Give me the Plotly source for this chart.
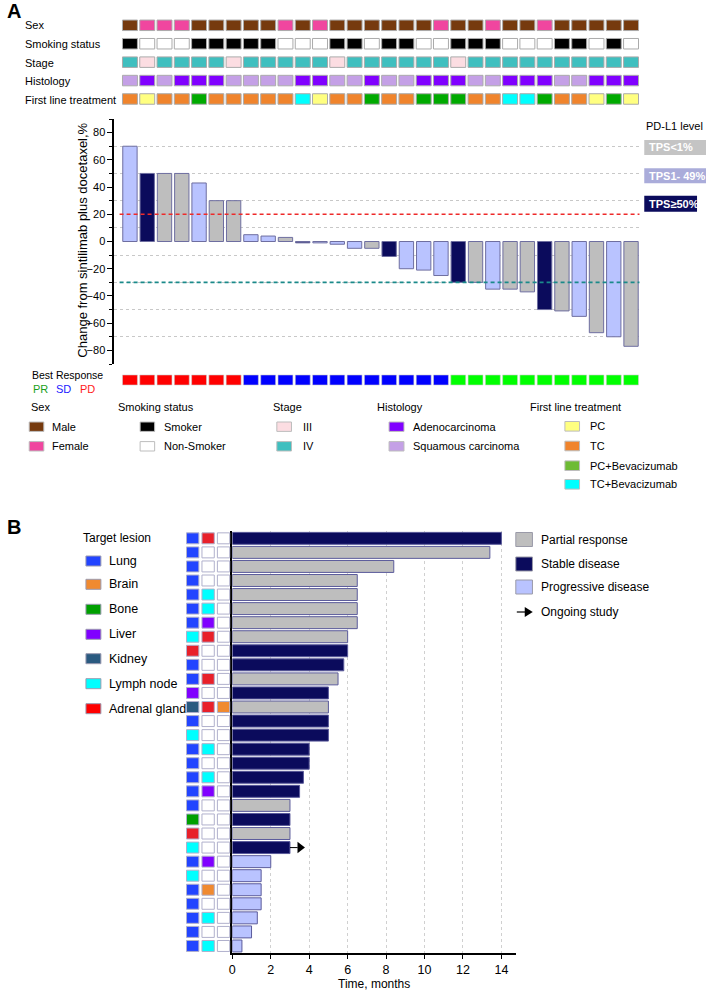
import plotly.graph_objects as go

W, H = 706, 991
FONT = "Arial, Liberation Sans, sans-serif"

# ---------------- Panel A data ----------------
patients = list(range(30))
sex = ["M", "F", "F", "F", "M", "M", "M", "M", "M", "F", "M", "F", "M", "M", "M",
       "M", "M", "M", "F", "M", "M", "F", "M", "M", "F", "M", "M", "M", "M", "M"]
smoking = ["S", "N", "N", "N", "S", "S", "S", "S", "S", "N", "N", "N", "S", "S", "N",
           "S", "S", "N", "N", "S", "S", "S", "N", "N", "N", "S", "S", "N", "S", "N"]
stage = ["IV", "III", "IV", "IV", "IV", "IV", "III", "IV", "IV", "IV", "IV", "IV", "III", "IV", "IV",
         "IV", "IV", "IV", "IV", "III", "IV", "IV", "IV", "IV", "IV", "IV", "IV", "IV", "IV", "IV"]
histology = ["Sq", "Ad", "Sq", "Ad", "Ad", "Ad", "Sq", "Sq", "Sq", "Sq", "Ad", "Ad", "Sq", "Sq", "Ad",
             "Sq", "Sq", "Ad", "Ad", "Ad", "Sq", "Sq", "Ad", "Ad", "Ad", "Sq", "Sq", "Ad", "Ad", "Ad"]
treatment = ["TC", "PC", "TC", "TC", "PCB", "TC", "TC", "TC", "TC", "TC", "TCB", "PC", "TC", "TC", "PCB",
             "TC", "TC", "PCB", "PCB", "PCB", "TC", "TC", "TCB", "TCB", "PCB", "TC", "TC", "PC", "PCB", "PC"]
change_pct = [70, 50, 50, 50, 43, 30, 30, 5, 4, 3, -1, -1, -2, -5, -5,
              -11, -20, -21, -25, -30, -30, -35, -35, -37, -50, -51, -55, -67, -70, -77]
pdl1 = ["mid", "high", "low", "low", "mid", "low", "low", "mid", "mid", "low", "high", "mid", "mid", "mid", "low",
        "high", "mid", "mid", "mid", "high", "low", "mid", "low", "low", "high", "low", "mid", "low", "mid", "low"]
best_response = ["PD", "PD", "PD", "PD", "PD", "PD", "PD", "SD", "SD", "SD", "SD", "SD", "SD", "SD", "SD",
                 "SD", "SD", "SD", "SD", "PR", "PR", "PR", "PR", "PR", "PR", "PR", "PR", "PR", "PR", "PR"]
PD_THRESHOLD = 20
PR_THRESHOLD = -30

# ---------------- Panel B data ----------------
swim_rows = list(range(30))
months = [14.0, 13.4, 8.4, 6.5, 6.5, 6.5, 6.5, 6.0, 6.0, 5.8, 5.5, 5.0, 5.0, 5.0, 5.0,
          4.0, 4.0, 3.7, 3.5, 3.0, 3.0, 3.0, 3.0, 2.0, 1.5, 1.5, 1.5, 1.3, 1.0, 0.5]
swim_response = ["SD", "PR", "PR", "PR", "PR", "PR", "PR", "PR", "SD", "SD", "PR", "SD", "PR", "SD", "SD",
                 "SD", "SD", "SD", "SD", "PR", "SD", "PR", "SD", "PD", "PD", "PD", "PD", "PD", "PD", "PD"]
ongoing = [False, False, False, False, False, False, False, False, False, False, False, False, False, False, False,
           False, False, False, False, False, False, False, True, False, False, False, False, False, False, False]
lesion1 = ["Lung", "Lung", "Lung", "Lung", "Lung", "Lung", "Lung", "Lymph node", "Adrenal gland", "Lung",
           "Lung", "Liver", "Kidney", "Lung", "Lymph node", "Lung", "Lung", "Lung", "Lung", "Lung",
           "Bone", "Adrenal gland", "Lymph node", "Lung", "Lymph node", "Lung", "Lung", "Lung", "Lung", "Lung"]
lesion2 = ["Adrenal gland", "", "", "", "Lymph node", "Lymph node", "Liver", "Adrenal gland", "", "",
           "Adrenal gland", "", "Adrenal gland", "", "", "Lymph node", "", "Lymph node", "Liver", "",
           "", "", "", "Liver", "", "Brain", "", "Lymph node", "", "Lymph node"]
lesion3 = ["", "", "", "", "", "", "", "", "", "", "", "", "Brain", "", "",
           "", "", "", "", "", "", "", "", "", "", "", "", "", "", ""]
lesion_names = ["Lung", "Brain", "Bone", "Liver", "Kidney", "Lymph node", "Adrenal gland"]

# ---------------- colours ----------------
SEX_COL = {"M": "#763A0E", "F": "#F0469F"}
SMOKE_COL = {"S": "#000000", "N": "#FFFFFF"}
STAGE_COL = {"III": "#FCDDE2", "IV": "#3FBFBF"}
HIST_COL = {"Ad": "#8000FF", "Sq": "#C4A0E6"}
TREAT_COL = {"PC": "#FFFF80", "TC": "#F0842C", "PCB": "#00AA00", "TCB": "#00FFFF"}
TREAT_LEG = {"PC": "#FFFF80", "TC": "#F0842C", "PCB": "#6DBB34", "TCB": "#00FFFF"}
PDL1_COL = {"low": "#BEBEBE", "mid": "#B9C3FF", "high": "#0B0B5C"}
BR_COL = {"PD": "#FF0000", "SD": "#0000FF", "PR": "#00FF00"}
SWIM_COL = {"PR": "#BEBEBE", "SD": "#0B0B5C", "PD": "#B9C3FF"}
LES_COL = {"Lung": "#2244FF", "Brain": "#F08A30", "Bone": "#00A000", "Liver": "#8000FF",
           "Kidney": "#2A5A80", "Lymph node": "#00FFFF", "Adrenal gland": "#E8202A", "": "#FFFFFF"}
LES_LEG = dict(LES_COL, **{"Adrenal gland": "#FF0000"})


def xp(px):
    return px / W


def yp(px):
    return 1 - px / H


fig = go.Figure()

# ---- top annotation tracks ----
tracks = [("Sex", sex, SEX_COL), ("Smoking status", smoking, SMOKE_COL), ("Stage", stage, STAGE_COL),
          ("Histology", histology, HIST_COL), ("First line treatment", treatment, TREAT_COL)]
TILE_H = 0.57
for r, (label, vals, cmap) in enumerate(tracks):
    fig.add_trace(go.Bar(
        x=patients, y=[TILE_H] * len(vals), base=[r - TILE_H / 2] * len(vals), width=0.865,
        marker=dict(color=[cmap[v] for v in vals], line=dict(color="#ABABAB", width=1)),
        xaxis="x", yaxis="y2", showlegend=False, hoverinfo="skip"))

# ---- waterfall ----
fig.add_trace(go.Bar(
    x=patients, y=change_pct, width=0.83,
    marker=dict(color=[PDL1_COL[v] for v in pdl1], line=dict(color="#6E6EA0", width=1)),
    xaxis="x", yaxis="y", showlegend=False))

# ---- best response ----
BR_H = 0.56
fig.add_trace(go.Bar(
    x=patients, y=[BR_H] * len(best_response), base=[-BR_H / 2] * len(best_response), width=0.865,
    marker=dict(color=[BR_COL[v] for v in best_response], line=dict(color="#D0D0D0", width=0.6)),
    xaxis="x", yaxis="y3", showlegend=False))

# ---- swimmer ----
fig.add_trace(go.Bar(
    orientation="h", y=swim_rows, x=months, width=0.85,
    marker=dict(color=[SWIM_COL[v] for v in swim_response], line=dict(color="#5B5B9B", width=1)),
    xaxis="x2", yaxis="y4", showlegend=False))

LES_W, LES_H = 0.8, 0.78
for c, col in enumerate([lesion1, lesion2, lesion3]):
    fig.add_trace(go.Bar(
        orientation="h", y=swim_rows, x=[LES_W] * len(col), base=[c - LES_W / 2] * len(col), width=LES_H,
        marker=dict(color=[LES_COL[v] for v in col], line=dict(color="#B0B0CC", width=1)),
        xaxis="x3", yaxis="y4", showlegend=False))

# ongoing arrow
for r, m, g in zip(swim_rows, months, ongoing):
    if g:
        fig.add_trace(go.Scatter(x=[m, m + 0.4], y=[r, r], mode="lines", line=dict(color="black", width=1),
                                 xaxis="x2", yaxis="y4", showlegend=False))
        fig.add_trace(go.Scatter(x=[m + 0.52], y=[r], mode="markers",
                                 marker=dict(symbol="triangle-right", size=10, color="black"),
                                 xaxis="x2", yaxis="y4", showlegend=False))

# ---------------- layout / axes ----------------
layout = dict(
    width=W, height=H, margin=dict(l=0, r=0, t=0, b=0), autosize=False,
    paper_bgcolor="white", plot_bgcolor="white", barmode="overlay",
    font=dict(family=FONT, size=11, color="black"),
    xaxis=dict(domain=[xp(111.7), xp(639.4)], range=[-0.91, 29.5], visible=False, anchor="y"),
    yaxis=dict(domain=[yp(364), yp(119)], range=[-90, 90], anchor="x",
               showline=True, linecolor="black", linewidth=1.5, ticks="outside", ticklen=5, tickwidth=1.2,
               tickcolor="black", tick0=0, dtick=20, tickfont=dict(size=11), showgrid=False, zeroline=False,
               minor=dict(tick0=0, dtick=10, ticks="outside", ticklen=3, tickcolor="black",
                          showgrid=True, gridcolor="#C8C8C8", griddash="dot", gridwidth=1)),
    yaxis2=dict(domain=[yp(108.2), yp(16.1)], range=[4.5, -0.5], visible=False, anchor="x"),
    yaxis3=dict(domain=[yp(389), yp(371)], range=[-0.5, 0.5], visible=False, anchor="x"),
    xaxis2=dict(domain=[xp(230.3), xp(515)], range=[0, 14.75], anchor="y4", showline=True, linecolor="black",
                linewidth=1.5, ticks="outside", ticklen=4, tickcolor="black", tick0=0, dtick=2,
                tickfont=dict(size=12.5), showgrid=True, gridcolor="#D0D0D0", griddash="dot", gridwidth=1,
                zeroline=False),
    yaxis4=dict(domain=[yp(953), yp(531.3)], range=[29.5, -0.5], anchor="x2", showline=True,
                linecolor="black", linewidth=1.5, showticklabels=False, ticks="", showgrid=False, zeroline=False),
    xaxis3=dict(domain=[xp(182.75), xp(229.25)], range=[-0.5, 2.5], visible=False, anchor="y4"),
)
fig.update_layout(**layout)

shapes = []
annotations = []


def text(x, y, s, size=11, color="black", anchor="left", bold=False, **kw):
    if bold:
        s = "<b>" + s + "</b>"
    annotations.append(dict(x=xp(x), y=yp(y), xref="paper", yref="paper", text=s, showarrow=False,
                            xanchor=anchor, yanchor="middle", font=dict(size=size, color=color, family=FONT),
                            borderpad=0, **kw))


def rect(x0, y0, x1, y1, fill, line="#A9A9A9", lw=1):
    shapes.append(dict(type="rect", xref="paper", yref="paper", x0=xp(x0), x1=xp(x1), y0=yp(y1), y1=yp(y0),
                       fillcolor=fill, line=dict(color=line, width=lw), layer="above"))


# threshold lines
shapes.append(dict(type="line", xref="x", yref="y", x0=-0.6, x1=29.5, y0=PD_THRESHOLD, y1=PD_THRESHOLD,
                   line=dict(color="#EE2A2A", width=1.6, dash="4px,3px"), layer="above"))
shapes.append(dict(type="line", xref="x", yref="y", x0=-0.6, x1=29.5, y0=PR_THRESHOLD, y1=PR_THRESHOLD,
                   line=dict(color="#1A8A8A", width=1.6, dash="4px,3px"), layer="above"))

# panel labels
text(3, 11, "A", size=20, bold=True)
text(3, 526.5, "B", size=20, bold=True)

# track labels
for (label, _, _), yc in zip(tracks, [25.3, 43.5, 62.7, 81, 99.5]):
    text(21, yc, label, size=11)

# waterfall y title
annotations.append(dict(x=xp(79), y=yp(240), xref="paper", yref="paper",
                        text="Change from sintilimab plus docetaxel,%", textangle=-90, showarrow=False,
                        xanchor="center", yanchor="middle", font=dict(size=13, family=FONT)))

# PD-L1 legend
text(645, 126, "PD-L1 level", size=11)
for (lab, key, y0, y1, x1) in [("TPS&lt;1%", "low", 140, 155, 706), ("TPS1- 49%", "mid", 168.3, 183.3, 706),
                                ("TPS≥50%", "high", 195.7, 211.7, 697)]:
    fillc = {"low": "#C4C4C4", "mid": "#AAACDA", "high": "#0B0B5C"}[key]
    rect(644, y0, x1, y1, fillc, line=fillc, lw=0)
    text(648, (y0 + y1) / 2, lab, size=11, color="white", bold=True)

# best response label
text(28, 375, "Best Response", size=10.5)
text(29, 389.3, "PR", size=11, color="#1AA01A")
text(52, 389.3, "SD", size=11, color="#1A1AFF")
text(76, 389.3, "PD", size=11, color="#FF1A1A")

# panel A legends
text(27, 407.3, "Sex")
text(114, 407.3, "Smoking status")
text(270, 407.3, "Stage")
text(375, 407.3, "Histology")
text(528, 407.3, "First line treatment")
row_y = [426.7, 446.3]
for (x0, x1, tx, items) in [
    (26.3, 41, 48.7, [("Male", SEX_COL["M"]), ("Female", SEX_COL["F"])]),
    (137.7, 152.3, 161, [("Smoker", SMOKE_COL["S"]), ("Non-Smoker", SMOKE_COL["N"])]),
    (275, 289.7, 300, [("III", STAGE_COL["III"]), ("IV", STAGE_COL["IV"])]),
    (387.7, 402.7, 411, [("Adenocarcinoma", HIST_COL["Ad"]), ("Squamous carcinoma", HIST_COL["Sq"])]),
]:
    for (lab, colr), yc in zip(items, row_y):
        rect(x0, yc - 4.7, x1, yc + 4.7, colr, line="#BDBDBD")
        text(tx, yc, lab)
for (lab, key), yc in zip([("PC", "PC"), ("TC", "TC"), ("PC+Bevacizumab", "PCB"), ("TC+Bevacizumab", "TCB")],
                          [426.3, 446, 465.7, 484.3]):
    rect(564.3, yc - 4.8, 579, yc + 4.8, TREAT_LEG[key], line="#BDBDBD")
    text(589, yc, lab)

# panel B: target lesion legend
text(79, 537.7, "Target lesion", size=12)
for name, yc in zip(lesion_names, [561, 584.3, 609.3, 634.3, 658.7, 683.7, 708.7]):
    rect(83.3, yc - 5, 98.3, yc + 5, LES_LEG[name], line="#9A9AB0")
    text(105, yc, name, size=12.5)

# panel B: response legend
for lab, key, yc in [("Partial response", "PR", 539.5), ("Stable disease", "SD", 564),
                     ("Progressive disease", "PD", 587)]:
    rect(515, yc - 7, 531.7, yc + 7, SWIM_COL[key], line="#9A9AA8")
    text(539, yc, lab, size=12)
shapes.append(dict(type="line", xref="paper", yref="paper", x0=xp(516), x1=xp(526), y0=yp(612), y1=yp(612),
                   line=dict(color="black", width=1.2)))
shapes.append(dict(type="path", xref="paper", yref="paper",
                   path=f"M {xp(524)},{yp(607)} L {xp(532)},{yp(612)} L {xp(524)},{yp(617)} Z",
                   fillcolor="black", line=dict(color="black", width=0)))
text(539, 612, "Ongoing study", size=12)

# x axis title B
annotations.append(dict(x=xp(373), y=yp(984), xref="paper", yref="paper", text="Time, months",
                        showarrow=False, xanchor="center", yanchor="middle", font=dict(size=12, family=FONT)))

fig.update_layout(shapes=shapes, annotations=annotations)
fig.write_html("out.html", config={"displayModeBar": False},
               post_script="document.body.style.margin='0px';document.body.style.padding='0px';")
